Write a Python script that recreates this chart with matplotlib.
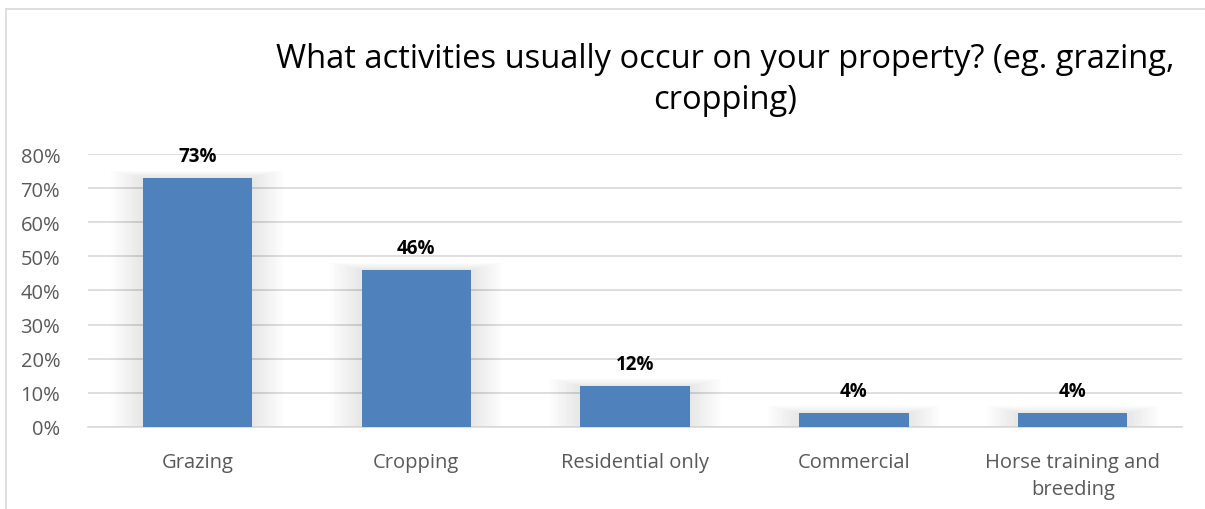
import matplotlib
matplotlib.use('Agg')
import matplotlib.pyplot as plt
from matplotlib.ticker import MultipleLocator, FuncFormatter
from matplotlib.lines import Line2D
import numpy as np

categories = ['Grazing', 'Cropping', 'Residential only', 'Commercial',
              'Horse training and\nbreeding']
values = [73, 46, 12, 4, 4]
labels = ['73%', '46%', '12%', '4%', '4%']

plt.rcParams['font.family'] = ['Open Sans', 'DejaVu Sans']

fig = plt.figure(figsize=(12.05, 5.10), dpi=100)
ax = fig.add_axes([0.073, 0.161, 0.908, 0.535])

x = np.arange(len(categories))

# soft shadow round each bar, like the office glow effect
for k in range(12):
    grow = 0.012 * (k + 1)
    ax.bar(x, np.array(values) + grow * 20, width=0.5 + 2 * grow, bottom=-grow * 5,
           color='black', alpha=0.009, zorder=2, linewidth=0)

bars = ax.bar(x, values, width=0.5, color='#4F81BD', zorder=3)

for xi, v, lab in zip(x, values, labels):
    ax.text(xi, v + 3.6, lab, ha='center', va='bottom', fontsize=13.5,
            fontweight='bold', color='black', zorder=4)

ax.set_ylim(0, 80)
ax.set_xlim(-0.5, len(categories) - 0.5)
ax.yaxis.set_major_locator(MultipleLocator(10))
ax.yaxis.set_major_formatter(FuncFormatter(lambda v, pos: '%d%%' % v))
ax.grid(which='major', axis='y', color='#d9d9d9', linewidth=1.2, zorder=0)
ax.set_axisbelow(True)

for s in ['top', 'right', 'left']:
    ax.spines[s].set_visible(False)
ax.spines['bottom'].set_color('#d9d9d9')
ax.spines['bottom'].set_linewidth(1.2)

ax.set_xticks(x)
ax.set_xticklabels(categories, fontsize=14.5, color='#595959', linespacing=1.45)
ax.tick_params(axis='x', length=0, pad=18)
ax.tick_params(axis='y', length=0, labelsize=14.5, labelcolor='#595959', pad=20)

fig.text(0.602, 0.843, 'What activities usually occur on your property? (eg. grazing,\ncropping)',
         ha='center', va='center', fontsize=23.5, color='black', linespacing=1.3)

# chart area border
fig.add_artist(Line2D([0.005, 0.005], [0.0, 0.98], color='#d9d9d9', lw=1.2))
fig.add_artist(Line2D([0.005, 1.0], [0.98, 0.98], color='#d9d9d9', lw=1.2))

plt.savefig('out.png', dpi=100)
